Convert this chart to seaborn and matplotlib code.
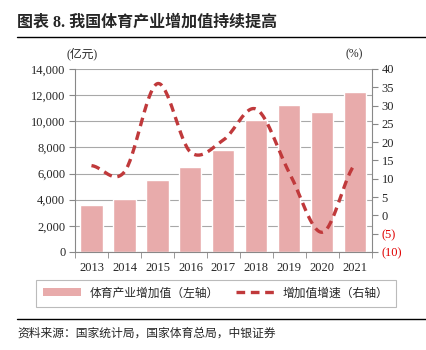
import numpy as np
import pandas as pd
import seaborn as sns
import matplotlib.pyplot as plt
from matplotlib.lines import Line2D
from matplotlib.patches import Patch

years = ['2013', '2014', '2015', '2016', '2017', '2018', '2019', '2020', '2021']
added_value = [3563, 4041, 5494, 6475, 7811, 10078, 11248, 10735, 12245]  # 亿元
growth = [13.6, 11.9, 36.0, 17.3, 20.6, 29.0, 11.6, -4.6, 14.1]  # %

sns.set_style('white')
plt.rcParams['font.family'] = ['Liberation Serif', 'Noto Sans CJK SC']
plt.rcParams['axes.unicode_minus'] = False

bar_color = '#E8ABAB'
line_color = '#C0393B'

df = pd.DataFrame({'year': years, 'value': added_value, 'growth': growth})

fig = plt.figure(figsize=(4.26, 3.5), dpi=100)
ax = fig.add_axes([0.176, 0.28, 0.697, 0.523])

sns.barplot(data=df, x='year', y='value', color=bar_color, width=0.67,
            saturation=1, ax=ax, zorder=2)
ax.set_ylim(0, 14000)
ax.set_xlim(-0.5, 8.5)
ax.set_yticks(np.arange(0, 14001, 2000))
ax.set_yticklabels([f'{v:,}' for v in range(0, 14001, 2000)])
ax.set_xlabel('')
ax.set_ylabel('')
ax.grid(axis='y', color='#a8a8a8', linewidth=0.8, zorder=0)
ax.set_axisbelow(True)
for s in ['top', 'right']:
    ax.spines[s].set_visible(False)
for s in ['left', 'bottom']:
    ax.spines[s].set_color('#888888')
    ax.spines[s].set_linewidth(0.8)
ax.tick_params(axis='y', left=True, length=4, color='#888888', labelsize=9, pad=3)
ax.tick_params(axis='x', bottom=False, labelsize=9, pad=4)
ax.set_xticks(np.arange(-0.5, 9, 1), minor=True)
ax.tick_params(axis='x', which='minor', bottom=True, length=4, color='#888888')

# smooth curve through the growth points (Catmull-Rom)
pts = np.array(growth)
p = np.concatenate([[pts[0]], pts, [pts[-1]]])
xs, ys = [], []
for i in range(len(pts) - 1):
    t = np.linspace(0, 1, 30, endpoint=False)
    p0, p1, p2, p3 = p[i], p[i + 1], p[i + 2], p[i + 3]
    y = 0.5 * ((2 * p1) + (-p0 + p2) * t + (2 * p0 - 5 * p1 + 4 * p2 - p3) * t ** 2
               + (-p0 + 3 * p1 - 3 * p2 + p3) * t ** 3)
    xs.extend(i + t)
    ys.extend(y)
xs.append(len(pts) - 1)
ys.append(pts[-1])

ax2 = ax.twinx()
sns.lineplot(x=xs, y=ys, ax=ax2, color=line_color, linewidth=2.4, zorder=3)
ax2.lines[0].set_dashes((2.6, 1.7))
ax2.set_ylim(-10, 40)
ax2.set_yticks(np.arange(-10, 41, 5))
ax2.set_yticklabels(['(10)', '(5)'] + [str(v) for v in range(0, 41, 5)])
for lbl in ax2.get_yticklabels()[:2]:
    lbl.set_color('#e00000')
for s in ['top', 'left', 'bottom']:
    ax2.spines[s].set_visible(False)
ax2.spines['right'].set_color('#888888')
ax2.spines['right'].set_linewidth(0.8)
ax2.tick_params(axis='y', right=True, length=4, color='#888888', labelsize=9, pad=3)
ax2.set_ylabel('')

fig.text(0.04, 0.935, '图表 8. 我国体育产业增加值持续提高', fontsize=11.5,
         fontweight='bold', va='center', ha='left')
fig.add_artist(Line2D([0.04, 1.0], [0.895, 0.895], color='black', linewidth=1))
fig.text(0.155, 0.845, '(亿元)', fontsize=8.5, va='center', ha='left')
fig.text(0.81, 0.845, '(%)', fontsize=8.5, va='center', ha='left')

handles = [Patch(facecolor=bar_color, edgecolor='none'),
           Line2D([0], [0], color=line_color, linewidth=2.4, dashes=(2.6, 1.7))]
leg = fig.legend(handles, ['体育产业增加值（左轴）', '增加值增速（右轴）'],
                 loc='center', ncol=2, frameon=True, fancybox=False,
                 bbox_to_anchor=(0.07, 0.117, 0.873, 0.089), mode='expand',
                 fontsize=8.5, handlelength=3.2, columnspacing=2, borderpad=0.6)
leg.get_frame().set_edgecolor('#aaaaaa')
leg.get_frame().set_linewidth(0.8)

fig.add_artist(Line2D([0.04, 1.0], [0.09, 0.09], color='black', linewidth=1))
fig.text(0.04, 0.048, '资料来源：国家统计局，国家体育总局，中银证券', fontsize=8.5,
         style='italic', va='center', ha='left')

fig.savefig('out.png', dpi=100)
